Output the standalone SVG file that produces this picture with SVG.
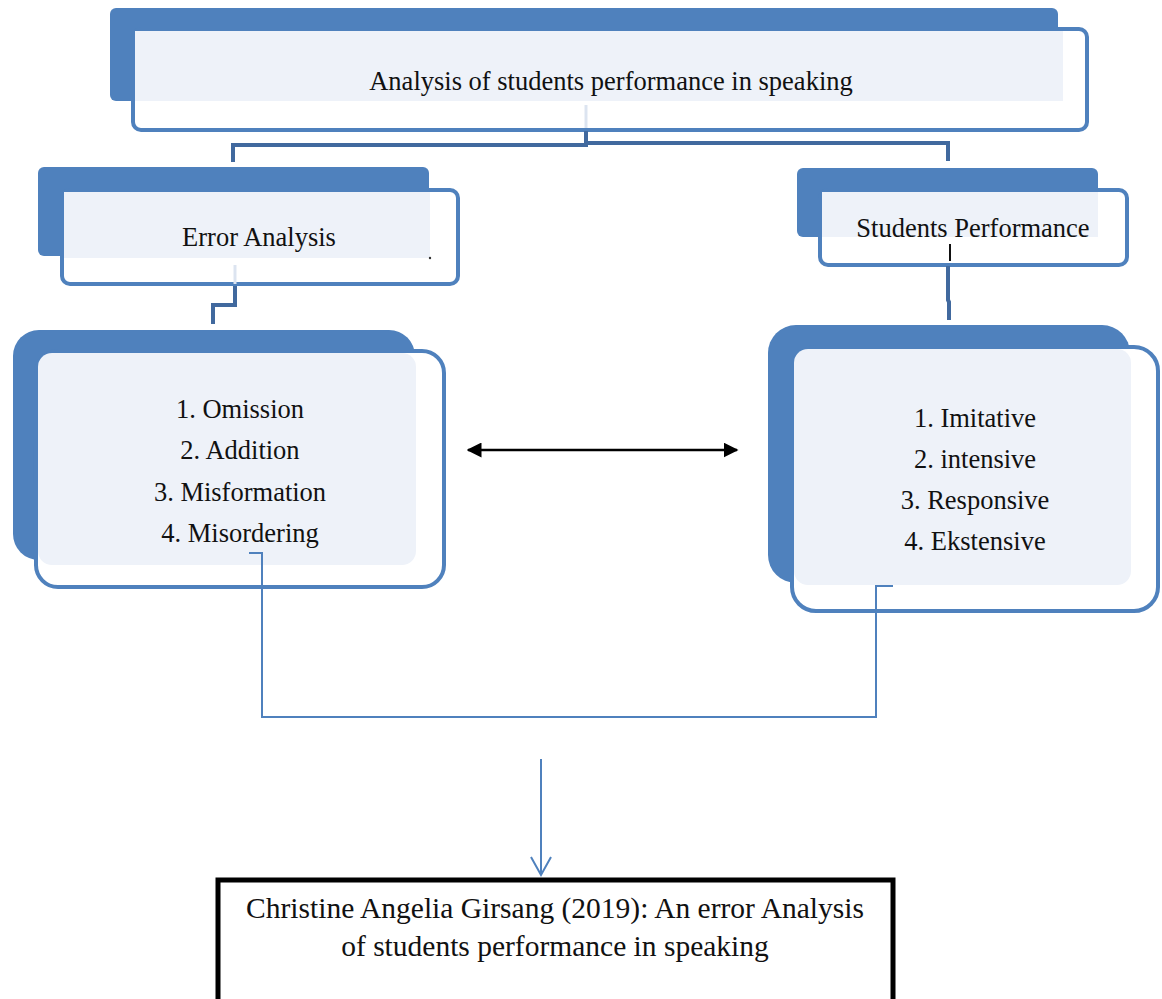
<svg xmlns="http://www.w3.org/2000/svg" width="1162" height="999" viewBox="0 0 1162 999">
  <defs>
    <style>
      .back { fill: #4F81BD; }
      .front { fill: #FFFFFF; stroke: #4F81BD; stroke-width: 4; }
      .light { fill: #EEF2F9; }
      .t { font-family: "Liberation Serif", "Times New Roman", serif; font-size: 26.5px; fill: #111111; text-anchor: middle; }
      .tb { font-family: "Liberation Serif", "Times New Roman", serif; font-size: 29.5px; fill: #111111; text-anchor: middle; }
      .thick { fill: none; stroke: #41699E; stroke-width: 4; }
      .thin { fill: none; stroke: #4F81BD; stroke-width: 2; }
    </style>
    <marker id="blk" viewBox="0 0 10 10" refX="9" refY="5" markerWidth="6" markerHeight="6" orient="auto-start-reverse" markerUnits="strokeWidth">
      <path d="M0,0 L10,5 L0,10 Z" fill="#000000"/>
    </marker>
  </defs>
  <rect width="1162" height="999" fill="#FFFFFF"/>

  <g id="node-top">
    <rect class="back" x="110" y="8" width="948" height="93" rx="6"/>
    <rect class="front" x="133" y="29" width="954" height="101" rx="8"/>
    <rect class="light" x="135" y="31" width="928" height="70"/>
    <text class="t" x="611" y="90">Analysis of students performance in speaking</text>
  </g>

  <g id="node-error">
    <rect class="back" x="38" y="167" width="391" height="89" rx="6"/>
    <rect class="front" x="62" y="190" width="396" height="94" rx="8"/>
    <rect class="light" x="64" y="192" width="366" height="66"/>
    <circle cx="430" cy="258" r="1.2" fill="#333"/>
    <text class="t" x="259" y="246">Error Analysis</text>
  </g>

  <g id="node-students">
    <rect class="back" x="797" y="168" width="301" height="69" rx="6"/>
    <rect class="front" x="820" y="190" width="307" height="75" rx="8"/>
    <rect class="light" x="822" y="192" width="276" height="45"/>
    <text class="t" x="973" y="237">Students Performance</text>
    <line x1="950" y1="244" x2="950" y2="261" stroke="#111" stroke-width="2"/>
  </g>

  <g id="node-error-list">
    <rect class="back" x="13" y="330" width="402" height="230" rx="26"/>
    <rect class="front" x="36" y="351" width="408" height="236" rx="22"/>
    <rect class="light" x="38" y="353" width="378" height="212" rx="14"/>
    <text class="t" x="240" y="418">1. Omission</text>
    <text class="t" x="240" y="459">2. Addition</text>
    <text class="t" x="240" y="501">3. Misformation</text>
    <text class="t" x="240" y="542">4. Misordering</text>
  </g>

  <g id="node-perf-list">
    <rect class="back" x="768" y="325" width="362" height="258" rx="28"/>
    <rect class="front" x="792" y="347" width="366" height="264" rx="24"/>
    <rect class="light" x="794" y="349" width="337" height="236" rx="14"/>
    <text class="t" x="975" y="427">1. Imitative</text>
    <text class="t" x="975" y="468">2. intensive</text>
    <text class="t" x="975" y="509">3. Responsive</text>
    <text class="t" x="975" y="550">4. Ekstensive</text>
  </g>

  <g id="node-result">
    <rect x="218" y="880" width="675" height="140" fill="#FFFFFF" stroke="#000000" stroke-width="5"/>
    <text class="tb" x="555" y="918">Christine Angelia Girsang (2019): An error Analysis</text>
    <text class="tb" x="555" y="956">of students performance in speaking</text>
  </g>

  <g id="connectors">
    <line x1="586" y1="105" x2="586" y2="128" stroke="#DCE4F0" stroke-width="3"/>
    <path class="thick" d="M586,131 V145 H233 V162"/>
    <path class="thick" d="M586,143 H948 V161"/>
    <line x1="235" y1="265" x2="235" y2="284" stroke="#DCE4F0" stroke-width="3"/>
    <path class="thick" d="M235,286 V305 H213 V324"/>
    <path class="thick" d="M948,266 V300 L949,302 V320"/>
    <line x1="468" y1="450" x2="737" y2="450" stroke="#000000" stroke-width="2.5" marker-start="url(#blk)" marker-end="url(#blk)"/>
    <path class="thin" d="M249,553 H262 V717 H876 V586 H893"/>
    <line x1="541" y1="759" x2="541" y2="875" stroke="#4F81BD" stroke-width="2"/>
    <path d="M531,857 L541,875 L551,857" fill="none" stroke="#4F81BD" stroke-width="2"/>
  </g>
</svg>
